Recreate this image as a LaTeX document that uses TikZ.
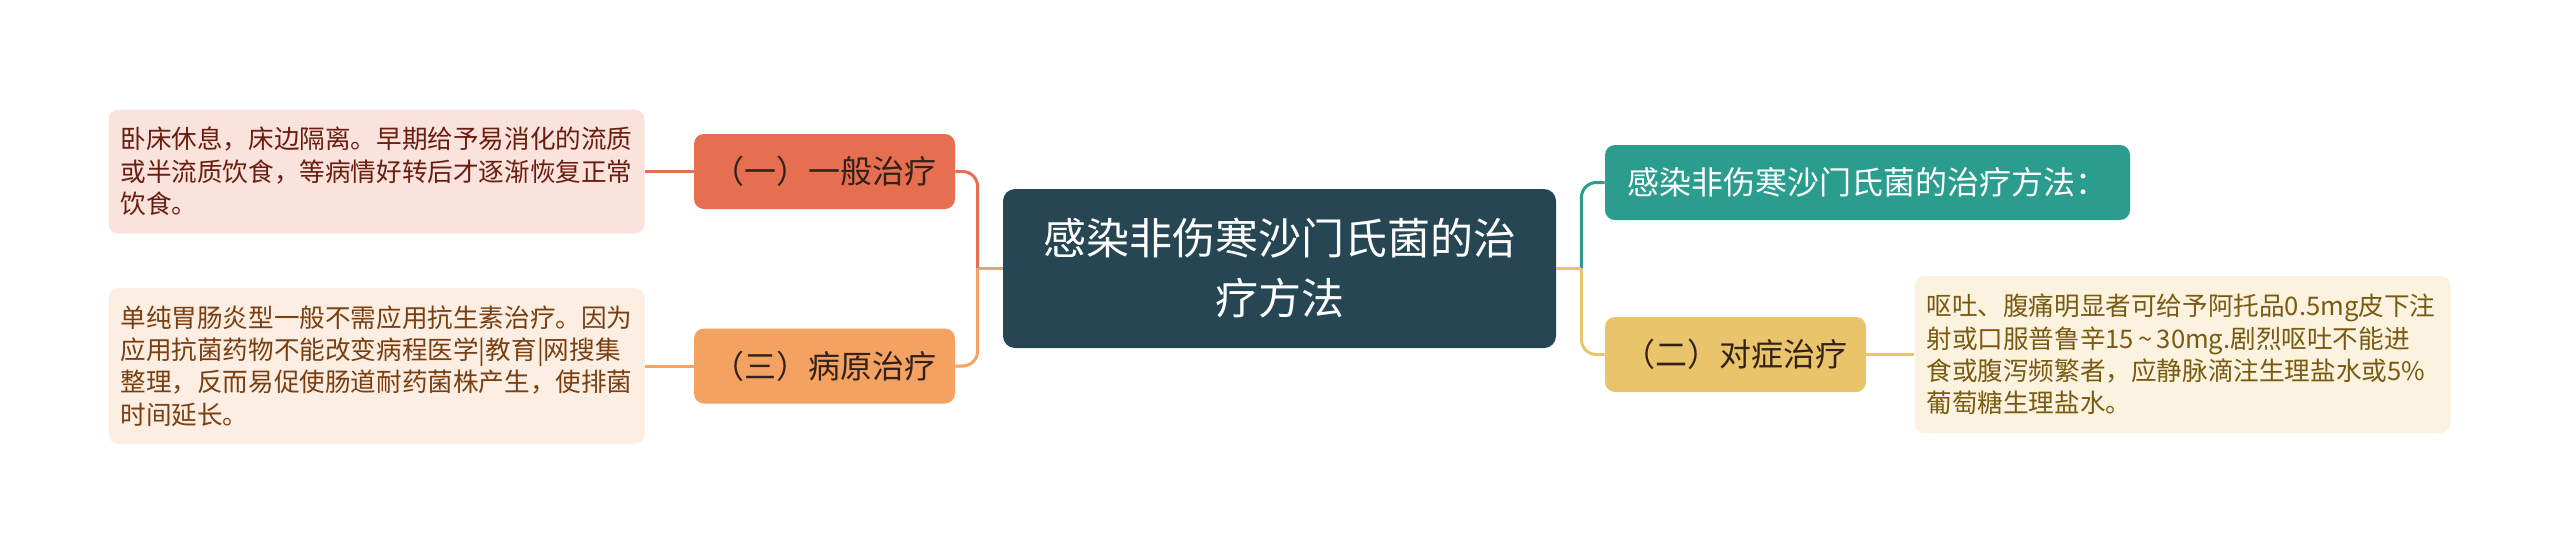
\documentclass[tikz,border=0pt]{standalone}
\usepackage{fontspec}
\setmainfont{Noto Sans CJK SC}
\usetikzlibrary{positioning,calc}
\definecolor{cdark}{HTML}{264653}
\definecolor{cteal}{HTML}{2A9D8F}
\definecolor{cyel}{HTML}{E9C46A}
\definecolor{corg}{HTML}{F4A261}
\definecolor{cred}{HTML}{E76F51}
\definecolor{lf1}{HTML}{FAE3DD}
\definecolor{lf3}{HTML}{FDEEE3}
\definecolor{lf2}{HTML}{FBF3E0}
\definecolor{tx1}{HTML}{6B1D0F}
\definecolor{tx3}{HTML}{7A3F10}
\definecolor{tx2}{HTML}{7A5A10}
\definecolor{txn}{HTML}{33211A}
\begin{document}
\begin{tikzpicture}[x=0.5pt,y=-0.5pt,
  centerbox/.style={fill=cdark,rounded corners=6pt,text=white,minimum width=276.5pt,minimum height=79.5pt,inner sep=0pt,align=center,font=\fontsize{21.5}{30}\selectfont},
  subbox/.style={rounded corners=5pt,minimum width=130.5pt,minimum height=37.5pt,inner sep=0pt,text=txn,font=\fontsize{16}{20}\selectfont},
  leafbox/.style={rounded corners=5pt,inner xsep=6pt,inner ysep=0pt,text width=256pt,align=left,font=\fontsize{12.8}{16.2}\selectfont},
  conn/.style={line width=1.5pt},
  cornered/.style={conn,rounded corners=7.5pt}]
\useasboundingbox (0,0) rectangle (2560,554);
\fill[white] (0,0) rectangle (2560,554);
% central
\node[centerbox] (ctr) at (1279.5,268.5) {感染非伤寒沙门氏菌的治\\疗方法};
% left branch nodes
\node[subbox,fill=cred] (n1) at (824.5,171.5) {（一）一般治疗};
\node[subbox,fill=corg] (n3) at (824.5,366) {（三）病原治疗};
% right branch nodes
\node[subbox,fill=cteal,text=white,minimum width=262.5pt] (t1) at (1867.5,182.5) {感染非伤寒沙门氏菌的治疗方法：};
\node[subbox,fill=cyel] (n2) at (1735.5,354.5) {（二）对症治疗};
% leaves
\node[leafbox,fill=lf1,text=tx1,minimum height=62pt] (l1) at (376.5,171.5) {卧床休息，床边隔离。早期给予易消化的流质\\或半流质饮食，等病情好转后才逐渐恢复正常\\饮食。};
\node[leafbox,fill=lf3,text=tx3,minimum height=78pt] (l3) at (376.5,366) {单纯胃肠炎型一般不需应用抗生素治疗。因为\\应用抗菌药物不能改变病程医学|教育|网搜集\\整理，反而易促使肠道耐药菌株产生，使排菌\\时间延长。};
\node[leafbox,fill=lf2,text=tx2,minimum height=78.5pt] (l2) at (2182.5,354.5) {呕吐、腹痛明显者可给予阿托品0.5mg皮下注\\射或口服普鲁辛15\,\string~\,30mg.剧烈呕吐不能进\\食或腹泻频繁者，应静脉滴注生理盐水或5\%\\葡萄糖生理盐水。};
% junctions
\path (ctr.west) ++(-25,0) coordinate (jL);
\path (ctr.east) ++(25,0) coordinate (jR);
% left connectors
\draw[cornered,draw=cred] (jL) |- (n1.east);
\draw[conn,draw=corg] (ctr.west) -- (jL);
\draw[cornered,draw=corg] (jL) |- (n3.east);
\draw[conn,draw=cred] (n1.west) -- (l1.east);
\draw[conn,draw=corg] (n3.west) -- (l3.east);
% right connectors
\draw[cornered,draw=cteal] (jR) |- (t1.west);
\draw[conn,draw=cyel] (ctr.east) -- (jR);
\draw[cornered,draw=cyel] (jR) |- (n2.west);
\draw[conn,draw=cyel] (n2.east) -- (l2.west);
\end{tikzpicture}
\end{document}
